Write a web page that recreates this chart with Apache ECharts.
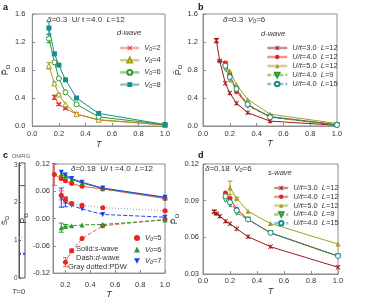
<!DOCTYPE html>
<html><head><meta charset="utf-8">
<script src="https://cdn.jsdelivr.net/npm/echarts@6/dist/echarts.min.js"></script>
<style>html,body{margin:0;padding:0;background:#fff}#c{width:392px;height:300px}</style>
</head><body><div id="c"></div>
<script>
// ---------- Panel a: d-wave, delta=0.3, U/t=4.0, L=12 ----------
const aT_V2 = [1/6, 1/5, 1/4, 1/3, 1/2, 1];
const aP_V2 = [0.41, 0.31, 0.25, 0.17, 0.085, 0.015];
const aE_V2 = [0.03, 0.015, 0.01, 0, 0, 0];
const aT = [1/8, 1/6, 1/5, 1/4, 1/3, 1/2, 1];
const aP_V4 = [0.86, 0.61, 0.45, 0.31, 0.17, 0.09, 0.015];
const aE_V4 = [0.045, 0.02, 0.01, 0, 0, 0, 0];
const aP_V6 = [1.25, 0.91, 0.68, 0.48, 0.31, 0.13, 0.02];
const aE_V6 = [0.06, 0.02, 0.01, 0, 0, 0, 0];
const aP_V8 = [1.40, 1.03, 0.87, 0.66, 0.40, 0.18, 0.02];
const aE_V8 = [0.09, 0.02, 0.01, 0, 0, 0, 0];
// ---------- Panel b: d-wave, delta=0.3, V0=6 ----------
const bT_U3 = [0.1, 1/8, 1/6, 1/5, 1/4, 1/3, 1/2, 1];
const bP_U3 = [1.22, 0.93, 0.61, 0.47, 0.325, 0.19, 0.07, 0.01];
const bE_U3 = [0.03, 0.01, 0, 0, 0, 0, 0, 0];
const bT = [1/6, 1/5, 1/4, 1/3, 1/2, 1];
const bP_U4L12 = [0.90, 0.74, 0.49, 0.30, 0.135, 0.02];
const bE_U4L12 = [0.02, 0, 0, 0, 0, 0];
const bT_U5 = [1/5, 1/4, 1/3, 1/2, 1];
const bP_U5L12 = [0.79, 0.59, 0.38, 0.17, 0.035];
const bP_U4L9 = [0.82, 0.66, 0.52, 0.29, 0.13, 0.012];
const bP_U4L15 = [0.86, 0.70, 0.53, 0.31, 0.125, 0.015];
// ---------- Panel c: delta=0.18, U/t=4.0, L=12 ----------
const cT_s5 = [1/9, 1/6, 1/5, 1/4, 1/3, 1/2, 1];
const cP_s5 = [0.097, 0.088, 0.083, 0.077, 0.071, 0.065, 0.044];
const cE_s5 = [0.024, 0.003, 0, 0, 0, 0, 0];
const cT = [1/6, 1/5, 1/4, 1/3, 1/2, 1];
const cP_s6 = [0.098, 0.093, 0.086, 0.078, 0.066, 0.046];
const cP_s7 = [0.102, 0.096, 0.088, 0.080, 0.067, 0.047];
const cT_d5 = [1/5, 1/4, 1/3, 1/2, 1];
const cP_d5 = [-0.096, -0.071, -0.044, -0.016, -0.002];
const cE_d5 = [0.01, 0.004, 0, 0, 0];
const cP_d6 = [-0.020, -0.017, -0.016, -0.014, -0.013, -0.003];
const cE_d6 = [0.01, 0.004, 0, 0, 0, 0];
const cP_d7 = [0.046, 0.036, 0.029, 0.021, 0.009, 0.003];
const cE_d7 = [0.021, 0.01, 0, 0, 0, 0];
const cP_pdw5 = [0.051, 0.041, 0.033, 0.029, 0.024, 0.017];
const cE_pdw5 = [0.01, 0.007, 0.003, 0, 0, 0.002];
// DMRG (T=0) values
const dmrgS_s7 = 2.45;
const dmrgS_pdw = 1.07;
const dmrgS_d7 = 0.64;
// ---------- Panel d: s-wave, delta=0.18, V0=6 ----------
const dT_U3 = [1/12, 0.1, 1/8, 1/6, 1/5, 1/4, 1/3, 1/2, 1];
const dP_U3 = [0.0810, 0.0792, 0.0773, 0.0732, 0.0711, 0.0670, 0.0605, 0.0523, 0.0355];
const dE_U3 = [0.0012, 0.0006, 0, 0, 0, 0, 0, 0, 0];
const dT = [1/6, 1/5, 1/4, 1/3, 1/2, 1];
const dP_U4L12 = [0.0963, 0.0920, 0.0830, 0.0748, 0.0637, 0.0447];
const dT_U5 = [1/5, 1/4, 1/3, 1/2, 1];
const dP_U5L12 = [0.1005, 0.0917, 0.0814, 0.0713, 0.0545];
const dE_U5L12 = [0.0055, 0.001, 0, 0, 0];
const dP_U4L9 = [0.0906, 0.0868, 0.0800, 0.0745, 0.0635, 0.0445];
const dP_U4L15 = [0.0936, 0.0887, 0.0820, 0.0746, 0.0637, 0.0447];
// axis ticks
const tickT = [0.0, 0.2, 0.4, 0.6, 0.8, 1.0];
const tickTc = [0.2, 0.4, 0.6, 0.8, 1.0];
const tickS = [0, 1, 2, 3];

const F = 'Liberation Sans, Arial, sans-serif';
const TXT = '#333';
const AX = '#8c8c8c';
const C = {red:'#e8261f', redL:'#f05a55', olive:'#a39f18', green:'#2a9a2a', teal:'#1c8c8c',
           dred:'#9c1a1a', blue:'#2040ee', gray:'#9a9a9a'};
const XPATH = 'path://M1.2,0L5,3.8L8.8,0L10,1.2L6.2,5L10,8.8L8.8,10L5,6.2L1.2,10L0,8.8L3.8,5L0,1.2Z';
const STAR = 'path://M1.2,0L5,3.8L8.8,0L10,1.2L6.2,5L10,8.8L8.8,10L5,6.2L1.2,10L0,8.8L3.8,5L0,1.2Z M4.4,0L5.6,0L5.6,10L4.4,10Z';

function rich(fs, col) {
  return {
    n:{fontSize:fs, fontFamily:F, color:col||TXT},
    i:{fontSize:fs, fontFamily:F, color:col||TXT, fontStyle:'italic'},
    s:{fontSize:fs*0.7, fontFamily:F, color:col||TXT, fontStyle:'italic', verticalAlign:'bottom', lineHeight:fs}
  };
}
function grich(fs) {
  return {
    n:{fontSize:fs, fontFamily:F, fill:TXT},
    i:{fontSize:fs, fontFamily:F, fill:TXT, fontStyle:'italic'},
    s:{fontSize:fs*0.7, fontFamily:F, fill:TXT, fontStyle:'italic', verticalAlign:'bottom', lineHeight:fs},
    b:{fontSize:fs, fontFamily:F, fill:'#111', fontWeight:'bold'}
  };
}

function ln(name, gi, xs, ys, color, sym, o) {
  o = o || {};
  return {
    name, type:'line', xAxisIndex:gi, yAxisIndex:gi,
    data: xs.map((x,i)=>[x, ys[i]]),
    symbol: sym, symbolSize: o.size || 5, symbolRotate: o.rot || 0,
    lineStyle:{color: o.lineColor || color, width: o.width || 1, type: o.type || 'solid'},
    itemStyle:{color: o.open ? '#fff' : color, borderColor: color, borderWidth: o.open ? 1 : 0},
    z: o.z || 3, animation:false
  };
}
function err(gi, xs, ys, es, color) {
  const data = xs.map((x,i)=>[x, ys[i], es[i]]).filter(d=>d[2] > 0);
  return {
    type:'custom', xAxisIndex:gi, yAxisIndex:gi, data, silent:true, z:2, animation:false,
    encode:{x:0, y:1},
    renderItem(params, api) {
      const x = api.value(0), y = api.value(1), e = api.value(2);
      const p1 = api.coord([x, y + e]), p2 = api.coord([x, y - e]);
      const w = 2.5, st = {stroke: color, lineWidth: 1};
      return {type:'group', children:[
        {type:'line', shape:{x1:p1[0], y1:p1[1], x2:p2[0], y2:p2[1]}, style:st},
        {type:'line', shape:{x1:p1[0]-w, y1:p1[1], x2:p1[0]+w, y2:p1[1]}, style:st},
        {type:'line', shape:{x1:p2[0]-w, y1:p2[1], x2:p2[0]+w, y2:p2[1]}, style:st}
      ]};
    }
  };
}

function xAxis(gi, min, max, custom, margin, nameGap, dec) {
  return {
    type:'value', gridIndex:gi, min, max,
    splitLine:{show:false},
    axisLine:{show:true, onZero:false, lineStyle:{color:AX}},
    axisTick:{show:true, inside:true, length:3, lineStyle:{color:AX}, customValues: custom},
    axisLabel:{fontSize:7.5, fontFamily:F, color:TXT, margin, customValues: custom, formatter: v => v.toFixed(dec)},
    name:'T', nameLocation:'middle', nameGap,
    nameTextStyle:{fontSize:9, fontFamily:F, color:TXT, fontStyle:'italic'}
  };
}
function yAxis(gi, min, max, custom, margin, nameGap, dec) {
  return {
    type:'value', gridIndex:gi, min, max,
    splitLine:{show:false},
    axisLine:{show:true, onZero:false, lineStyle:{color:AX}},
    axisTick:{show:true, inside:true, length:3, lineStyle:{color:AX}, customValues: custom},
    axisLabel:{fontSize:7.5, fontFamily:F, color:TXT, margin, customValues: custom, formatter: v => v.toFixed(dec)},
    name:'{p|P\u0304}{s|\u03A9}', nameLocation:'middle', nameGap, nameRotate:90,
    nameTextStyle:{rich:{
      p:{fontSize:9, fontFamily:F, color:TXT, lineHeight:11},
      s:{fontSize:6, fontFamily:F, color:TXT, verticalAlign:'bottom', lineHeight:8}
    }}
  };
}

const LAB = {
  a2:'{i|V}{s|0}=2', a4:'{i|V}{s|0}=4', a6:'{i|V}{s|0}=6', a8:'{i|V}{s|0}=8',
  b3:'{i|U/t}{n|=3.0  }{i|L}{n|=12}', b4:'{i|U/t}{n|=4.0  }{i|L}{n|=12}', b5:'{i|U/t}{n|=5.0  }{i|L}{n|=12}',
  b9:'{i|U/t}{n|=4.0  }{i|L}{n|=9}', b15:'{i|U/t}{n|=4.0  }{i|L}{n|=15}',
  d3:'{i|U/t}{n|=3.0  }{i|L}{n|=12}', d4:'{i|U/t}{n|=4.0  }{i|L}{n|=12}', d5:'{i|U/t}{n|=5.0  }{i|L}{n|=12}',
  d9:'{i|U/t}{n|=4.0  }{i|L}{n|=9}', d15:'{i|U/t}{n|=4.0  }{i|L}{n|=15}',
  c5:'{i|V}{s|0}{n|=5}', c6:'{i|V}{s|0}{n|=6}', c7:'{i|V}{s|0}{n|=7}'
};
function legend(left, top, names, w, h, gap, lh, extra) {
  return Object.assign({
    left, top, orient:'vertical', itemWidth:w, itemHeight:h, itemGap:gap, selectedMode:false,
    data:names, formatter: n => LAB[n],
    textStyle:{fontSize:7.5, fontFamily:F, color:TXT, lineHeight:lh, rich: rich(7.5)},
    lineStyle:{width:2.5, opacity:0.5}
  }, extra || {});
}

const series = [
  // a
  ln('a2', 0, aT_V2, aP_V2, C.red, XPATH, {lineColor:C.redL}),
  ln('a4', 0, aT, aP_V4, C.olive, 'triangle', {open:true}),
  ln('a6', 0, aT, aP_V6, C.green, 'circle', {open:true}),
  ln('a8', 0, aT, aP_V8, C.teal, 'rect', {size:5}),
  err(0, aT_V2, aP_V2, aE_V2, C.red), err(0, aT, aP_V4, aE_V4, C.olive),
  err(0, aT, aP_V6, aE_V6, C.green), err(0, aT, aP_V8, aE_V8, C.teal),
  // b
  ln('b3', 1, bT_U3, bP_U3, C.dred, STAR),
  ln('b4', 1, bT, bP_U4L12, C.red, 'circle'),
  ln('b5', 1, bT_U5, bP_U5L12, C.olive, 'triangle'),
  ln('b9', 1, bT, bP_U4L9, C.green, 'triangle', {open:true, rot:180, type:[4,2]}),
  ln('b15', 1, bT, bP_U4L15, C.teal, 'circle', {open:true, type:[4,2]}),
  err(1, bT_U3, bP_U3, bE_U3, C.dred), err(1, bT, bP_U4L12, bE_U4L12, C.red),
  // c
  ln('c5', 2, cT_s5, cP_s5, C.red, 'circle', {lineColor:C.redL}),
  ln('c6', 2, cT, cP_s6, C.green, 'triangle'),
  ln('c7', 2, cT, cP_s7, C.blue, 'triangle', {rot:180}),
  ln('c5d', 2, cT_d5, cP_d5, C.red, 'circle', {lineColor:C.redL, type:[4,2]}),
  ln('c6d', 2, cT, cP_d6, C.green, 'triangle', {type:[4,2]}),
  ln('c7d', 2, cT, cP_d7, C.blue, 'triangle', {rot:180, type:[4,2]}),
  ln('c5p', 2, cT, cP_pdw5, C.red, 'circle', {lineColor:C.gray, type:[1,2]}),
  err(2, cT_s5, cP_s5, cE_s5, C.redL), err(2, cT_d5, cP_d5, cE_d5, C.redL),
  err(2, cT, cP_d6, cE_d6, C.green), err(2, cT, cP_d7, cE_d7, C.blue),
  err(2, cT, cP_pdw5, cE_pdw5, C.redL),
  // d
  ln('d3', 3, dT_U3, dP_U3, C.dred, STAR),
  ln('d4', 3, dT, dP_U4L12, C.red, 'circle'),
  ln('d5', 3, dT_U5, dP_U5L12, C.olive, 'triangle'),
  ln('d9', 3, dT, dP_U4L9, C.green, 'triangle', {open:true, rot:180, type:[4,2]}),
  ln('d15', 3, dT, dP_U4L15, C.teal, 'circle', {open:true, type:[4,2]}),
  err(3, dT_U3, dP_U3, dE_U3, C.dred), err(3, dT_U5, dP_U5L12, dE_U5L12, C.olive),
  // DMRG inset
  {type:'line', xAxisIndex:4, yAxisIndex:4, data:[[0, dmrgS_s7],[1, dmrgS_s7]], symbol:'none',
   lineStyle:{color:C.blue, width:1}, animation:false},
  {type:'line', xAxisIndex:4, yAxisIndex:4, data:[[0, dmrgS_pdw],[1, dmrgS_pdw]], symbol:'none',
   lineStyle:{color:C.gray, width:1, type:[1,1.5]}, animation:false},
  {type:'line', xAxisIndex:4, yAxisIndex:4, data:[[0, dmrgS_d7],[1, dmrgS_d7]], symbol:'none',
   lineStyle:{color:C.blue, width:2, type:[2,2]}, animation:false}
];

const gridStyle = {show:true, borderColor:AX, borderWidth:1, backgroundColor:'transparent'};
const option = {
  animation:false,
  grid:[
    Object.assign({left:32, top:14, width:133, height:112}, gridStyle),
    Object.assign({left:203, top:14, width:134, height:112}, gridStyle),
    Object.assign({left:53, top:164, width:112, height:110}, gridStyle),
    Object.assign({left:203, top:164, width:135, height:110}, gridStyle),
    Object.assign({left:13, top:163, width:12, height:115}, gridStyle, {borderColor:'#555'})
  ],
  xAxis:[
    xAxis(0, 0, 1, tickT, 4, 14, 1),
    xAxis(1, 0, 1, tickT, 4, 12, 1),
    xAxis(2, 0.1, 1, tickTc, 8, 15, 1),
    xAxis(3, 0, 1, tickT, 3, 13, 1),
    {type:'value', gridIndex:4, min:0, max:1, show:false}
  ],
  yAxis:[
    yAxis(0, 0, 1.6, [0,0.4,0.8,1.2,1.6], 7, 15, 1),
    yAxis(1, 0, 1.6, [0,0.4,0.8,1.2,1.6], 5, 13, 1),
    yAxis(2, -0.12, 0.12, [-0.12,-0.06,0,0.06,0.12], 3, 16, 2),
    yAxis(3, 0.03, 0.12, [0.03,0.06,0.09,0.12], 4, 16, 2),
    {type:'value', gridIndex:4, min:0, max:3.05, splitLine:{show:false},
     axisLine:{show:true, lineStyle:{color:'#555'}},
     axisTick:{show:true, inside:true, length:2, lineStyle:{color:'#555'}, customValues:tickS},
     axisLabel:{fontSize:6.5, fontFamily:F, color:'#444', margin:1.5, customValues:tickS, formatter: v => String(v)},
     name:'{p|S\u0304}{s|\u03A9}', nameLocation:'middle', nameGap:5, nameRotate:90,
     nameTextStyle:{rich:{
       p:{fontSize:8, fontFamily:F, color:TXT, lineHeight:10},
       s:{fontSize:5.5, fontFamily:F, color:TXT, verticalAlign:'bottom', lineHeight:7}
     }}}
  ],
  legend:[
    legend(114, 39, ['a2','a4','a6','a8'], 19, 6, 4.2, 8),
    legend(261, 39, ['b3','b4','b5','b9','b15'], 20, 5.5, 1, 7.5),
    legend(268, 179, ['d3','d4','d5','d9','d15'], 14, 5.5, 0.8, 7),
    legend(129, 229, [
      {name:'c5', icon:'circle'},
      {name:'c6', icon:'triangle'},
      {name:'c7', icon:'path://M0,0L10,0L5,9Z'}
    ], 6, 6, 3.5, 7)
  ],
  graphic:[
    {type:'text', left:3, top:3, style:{text:'a', font:'bold 9px '+F, fill:'#111'}},
    {type:'text', left:198, top:3, style:{text:'b', font:'bold 9px '+F, fill:'#111'}},
    {type:'text', left:3, top:151, style:{text:'c', font:'bold 9px '+F, fill:'#111'}},
    {type:'text', left:198, top:151, style:{text:'d', font:'bold 9px '+F, fill:'#111'}},
    {type:'text', left:47, top:16, style:{text:'{i|\u03B4}{n|=0.3  U/ t =4.0  }{i|L}{n|=12}', rich:grich(8)}},
    {type:'text', left:117, top:29, style:{text:'{i|d-wave}', rich:grich(7.5)}},
    {type:'text', left:223, top:16, style:{text:'{i|\u03B4}{n|=0.3  }{i|V}{s|0}{n|=6}', rich:grich(8)}},
    {type:'text', left:261, top:30, style:{text:'{i|d-wave}', rich:grich(7.5)}},
    {type:'text', left:71, top:165, style:{text:'{i|\u03B4}{n|=0.18  U/ t =4.0  }{i|L}{n|=12}', rich:grich(8)}},
    {type:'text', left:76, top:245, style:{text:'{n|Solid:}{i|s}{n|-wave}', rich:grich(7.5)}},
    {type:'text', left:76, top:254, style:{text:'{n|Dash:}{i|d}{n|-wave}', rich:grich(7.5)}},
    {type:'text', left:68, top:263, style:{text:'{n|Gray dotted:PDW}', rich:grich(7.5)}},
    {type:'text', left:205, top:165, style:{text:'{i|\u03B4}{n|=0.18  }{i|V}{s|0}{n|=6}', rich:grich(8)}},
    {type:'text', left:268, top:169, style:{text:'{i|s-wave}', rich:grich(7.5)}},
    {type:'text', left:12, top:153, style:{text:'DMRG', font:'6px '+F, fill:'#666'}},
    {type:'text', left:12, top:288, style:{text:'{i|T}{n|=0}', rich:grich(7.5)}}
  ],
  series
};
const chart = echarts.init(document.getElementById('c'), null, {renderer:'canvas'});
chart.setOption(option);
</script>
</body></html>
